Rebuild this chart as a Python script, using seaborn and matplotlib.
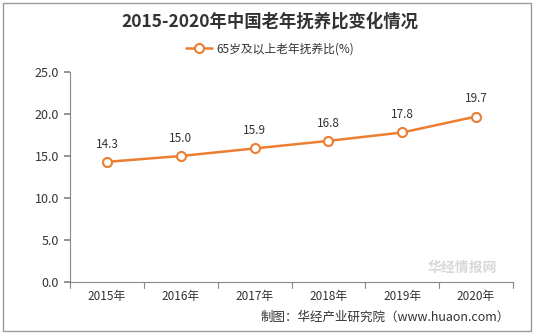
import matplotlib
matplotlib.use("Agg")
import matplotlib.pyplot as plt
import seaborn as sns
import pandas as pd
from matplotlib.patches import Rectangle

years = ["2015年", "2016年", "2017年", "2018年", "2019年", "2020年"]
values = [14.3, 15.0, 15.9, 16.8, 17.8, 19.7]
yticks = [0, 5, 10, 15, 20, 25]
series_name = "65岁及以上老年抚养比(%)"

sns.set_theme(style="white")
plt.rcParams['font.family'] = ['Noto Sans CJK SC', 'DejaVu Sans']

fig = plt.figure(figsize=(5.35, 3.35), dpi=100)
ax = fig.add_axes([70/535, 1-282/335, 443/535, 210/335])

df = pd.DataFrame({"year": years, "value": values})
color = "#ED7D31"
sns.lineplot(data=df, x="year", y="value", ax=ax, color=color, lw=1.8,
             marker="o", markersize=6.5, markerfacecolor="white",
             markeredgecolor=color, markeredgewidth=1.5, label=series_name,
             sort=False)

ax.set_xlim(-0.5, len(years)-0.5)
ax.set_ylim(0, 25)
ax.set_yticks(yticks)
ax.set_yticklabels([f"{v:.1f}" for v in yticks], fontsize=9, color="#333333")
ax.set_xticks(range(len(years)))
ax.set_xticklabels(years, fontsize=8.5, color="#333333")
ax.tick_params(axis='x', length=0, pad=6)
ax.tick_params(axis='y', length=4, color="#888888", direction='out', left=True, pad=4)
for b in [i + 0.5 for i in range(-1, len(years))]:
    ax.plot([b, b], [0, -0.7], color="#888888", lw=0.8, clip_on=False)
ax.set_xlabel("")
ax.set_ylabel("")
for s in ["top", "right"]:
    ax.spines[s].set_visible(False)
for s in ["left", "bottom"]:
    ax.spines[s].set_color("#888888")
    ax.spines[s].set_linewidth(0.8)

for i, v in enumerate(values):
    ax.annotate(f"{v:.1f}", (i, v), xytext=(0, 8), textcoords="offset points",
                ha="center", va="bottom", fontsize=8.5, color="#333333")

leg = ax.legend(loc="center", bbox_to_anchor=(270/535, 1-49/335), bbox_transform=fig.transFigure,
                frameon=False, fontsize=8.5, handlelength=2.2, handletextpad=0.3)
for t in leg.get_texts():
    t.set_color("#333333")

fig.text(270/535, 1-22/335, "2015-2020年中国老年抚养比变化情况", ha="center", va="center",
         fontsize=12.5, fontweight="bold", color="#333333")
fig.text(510/535, 1-317/335, "制图：华经产业研究院（www.huaon.com）", ha="right", va="center",
         fontsize=9, color="#333333")
fig.text(462/535, 1-268/335, "华经情报网", ha="center", va="center", fontsize=10,
         color="#cfcfcf", fontweight="bold", alpha=0.8)

fig.patches.append(Rectangle((3/535, 4/335), 528/535, 328/335, transform=fig.transFigure,
                             fill=False, edgecolor="#999999", lw=1))

fig.savefig("out.png", dpi=100)
